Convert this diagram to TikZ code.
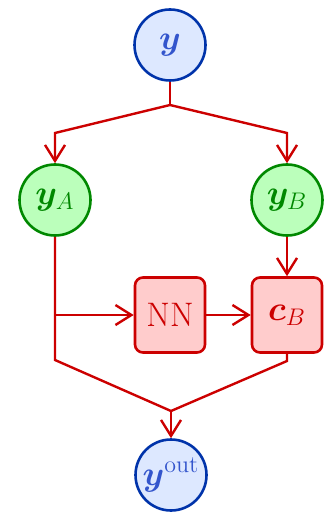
\documentclass[tikz,border=0pt]{standalone}
\usepackage{amsmath,bm}
\usetikzlibrary{arrows.meta}
\definecolor{bblue}{HTML}{0033AA}
\definecolor{fblue}{HTML}{DDE8FF}
\definecolor{tblue}{HTML}{3355CC}
\definecolor{bgreen}{HTML}{008800}
\definecolor{fgreen}{HTML}{BBFFBB}
\definecolor{rred}{HTML}{CC0000}
\definecolor{fred}{HTML}{FFCCCC}
\tikzset{
  bluec/.style={circle,draw=bblue,fill=fblue,text=tblue,line width=1.3pt,minimum size=35.5pt,inner sep=0pt},
  greenc/.style={circle,draw=bgreen,fill=fgreen,text=bgreen,line width=1.3pt,minimum size=35.5pt,inner sep=0pt},
  redbox/.style={rectangle,rounded corners=4pt,draw=rred,fill=fred,text=rred,line width=1.3pt,minimum width=35pt,minimum height=37.5pt,inner sep=0pt},
  link/.style={draw=rred,line width=1.2pt},
  arr/.style={link,-{Straight Barb[length=8pt,width=10pt]}},
}
\begin{document}
\begin{tikzpicture}[x=0.5pt,y=-0.5pt,font=\fontsize{17}{20}\selectfont]
\useasboundingbox (0,0) rectangle (329,513);
\node[bluec] (y) at (170,45) {$\bm{y}$};
\node[greenc] (yA) at (55,200) {$\bm{y}_A$};
\node[greenc] (yB) at (287,200) {$\bm{y}_B$};
\node[redbox] (NN) at (170,315) {NN};
\node[redbox] (cB) at (287,315) {$\bm{c}_B$};
\node[bluec] (yout) at (171,475) {$\bm{y}^{\mathrm{out}}$};
\coordinate (j0) at (170,105);
\coordinate (cl) at (55,133);
\coordinate (cr) at (287,133);
\coordinate (b1) at (55,315);
\coordinate (cl2) at (55,360);
\coordinate (cr2) at (287,361);
\coordinate (j1) at (171,411);
\draw[link] (y.south) -- (j0);
\draw[arr] (j0) -- (cl) -- (yA.north);
\draw[arr] (j0) -- (cr) -- (yB.north);
\draw[link] (yA.south) -- (cl2) -- (j1);
\draw[arr] (b1) -- (NN.west);
\draw[arr] (NN.east) -- (cB.west);
\draw[arr] (yB.south) -- (cB.north);
\draw[link] (cB.south) -- (cr2) -- (j1);
\draw[arr] (j1) -- (yout.north);
\end{tikzpicture}
\end{document}
